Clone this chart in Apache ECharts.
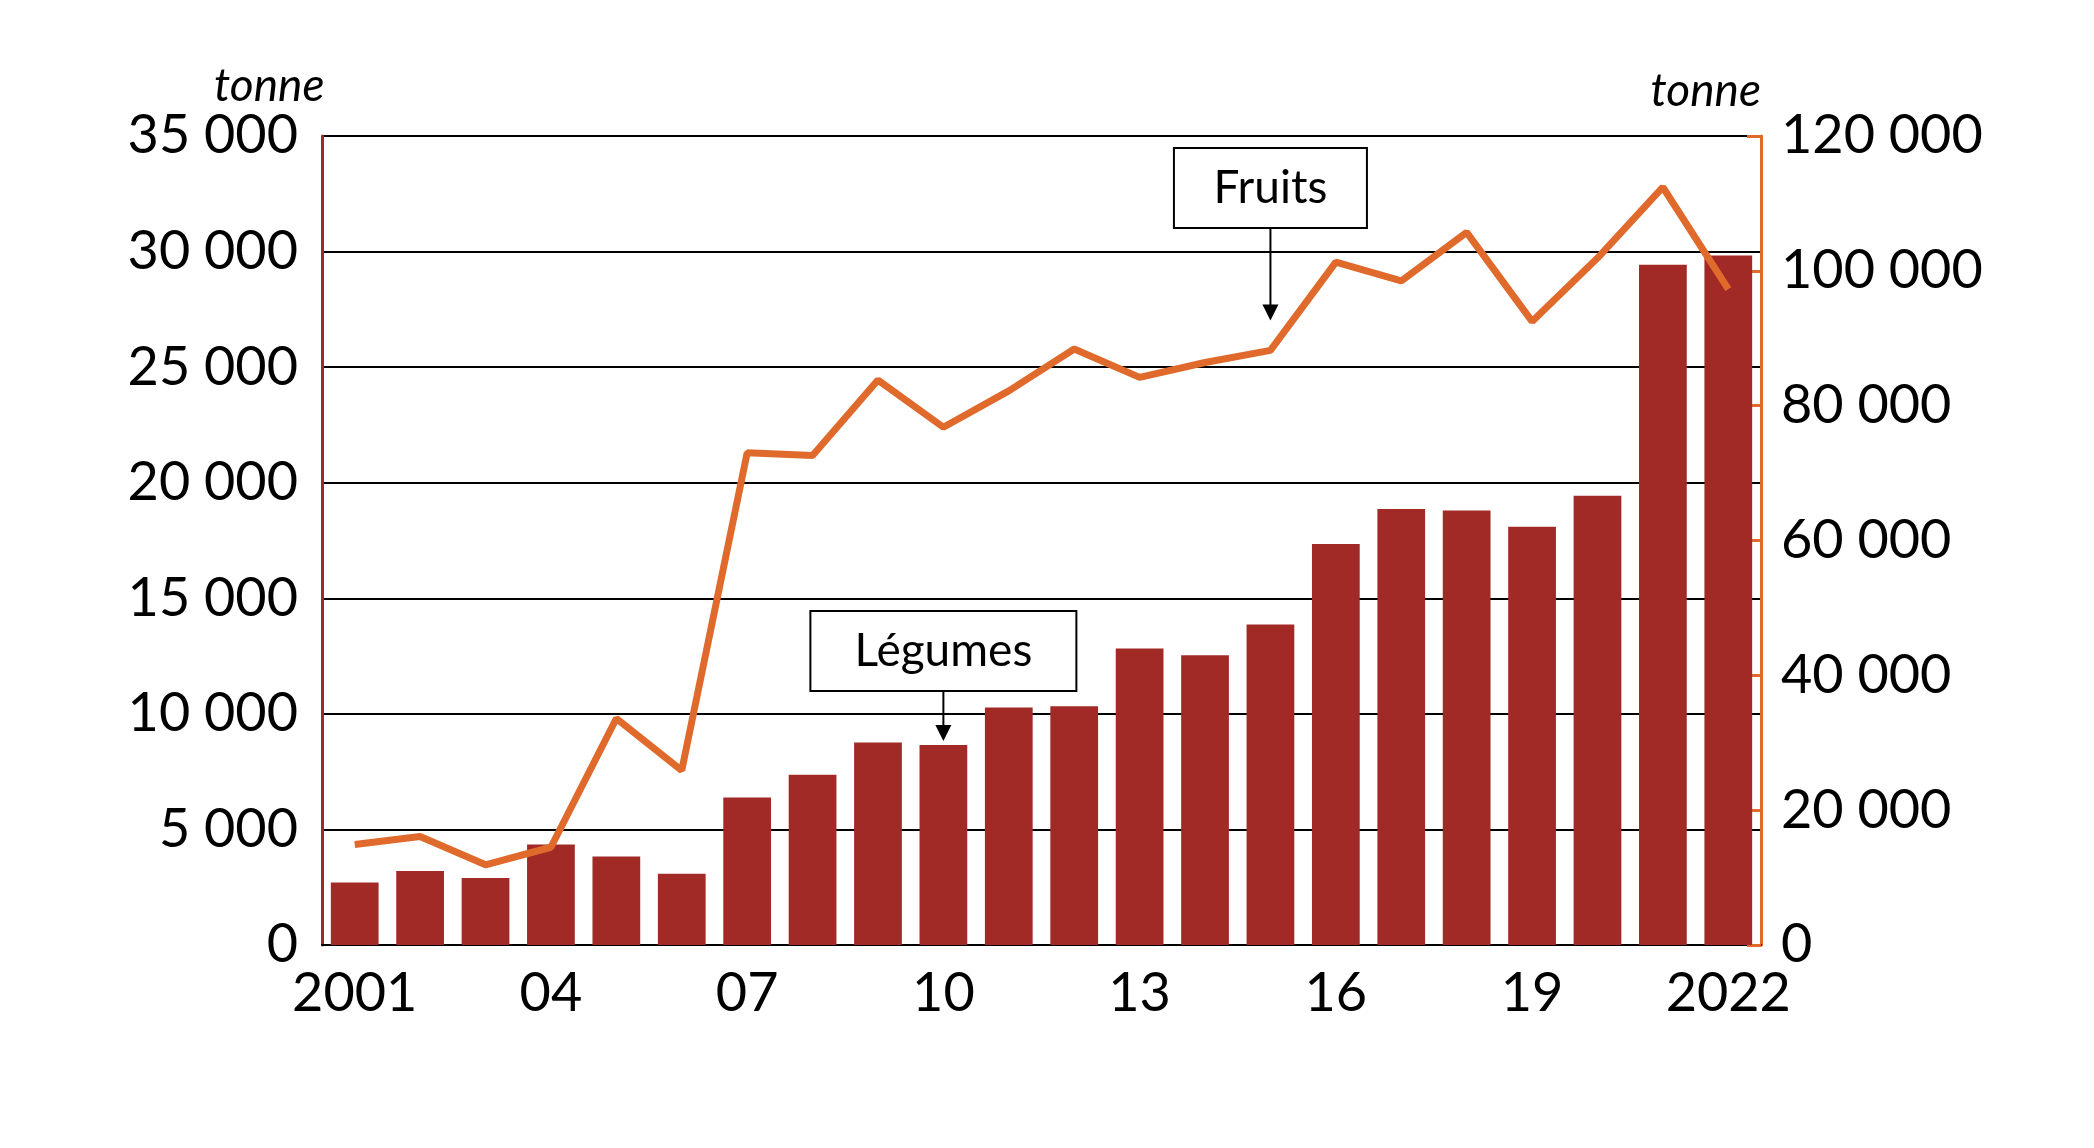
<!DOCTYPE html>
<html>
<head>
<meta charset="utf-8">
<script src="https://cdn.jsdelivr.net/npm/echarts@6/dist/echarts.min.js"></script>
<style>
html, body { margin: 0; padding: 0; background: #fff; }
#chart { width: 2094px; height: 1148px; }
</style>
</head>
<body>
<div id="chart"></div>
<script>
// années
var years = ['2001','2002','2003','2004','2005','2006','2007','2008','2009','2010','2011',
    '2012','2013','2014','2015','2016','2017','2018','2019','2020','2021','2022'];
// légumes (axe gauche, tonne)
var legumes = [2700, 3200, 2900, 4350, 3830, 3080, 6380, 7370, 8760, 8650, 10270,
    10330, 12830, 12540, 13870, 17350, 18860, 18800, 18100, 19440, 29430, 29830];
// fruits (axe droit, tonne)
var fruits = [14900, 16100, 11900, 14500, 33600, 25900, 73000, 72600, 83800, 76800, 82200,
    88400, 84200, 86400, 88200, 101300, 98500, 105700, 92500, 101900, 112400, 97300];

var font = 'Lato';
var chart = echarts.init(document.getElementById('chart'));

var option = {
    animation: false,
    textStyle: { fontFamily: font },
    grid: { left: 322, right: 333, top: 136, bottom: 203 },
    xAxis: {
        type: 'category',
        data: years,
        axisLine: { lineStyle: { color: '#000', width: 2 } },
        axisTick: { show: false },
        axisLabel: {
            color: '#000', fontSize: 54, margin: 22,
            interval: function (i) { return i % 3 === 0 || i === years.length - 1; },
            formatter: function (v, i) {
                if (i === 0 || i === years.length - 1) return v;
                return v.slice(2);
            }
        }
    },
    yAxis: [
        {
            type: 'value', min: 0, max: 35000, interval: 5000,
            name: 'tonne', nameLocation: 'end', nameGap: 22,
            nameTextStyle: { fontSize: 46, fontStyle: 'italic', color: '#000', align: 'left', padding: [0, 0, 0, -108] },
            axisLine: { show: true, lineStyle: { color: '#a12a27', width: 3 } },
            axisTick: { show: false },
            splitLine: { lineStyle: { color: '#000', width: 2 } },
            axisLabel: {
                color: '#000', fontSize: 54, margin: 24,
                formatter: function (v) { return String(v).replace(/\B(?=(\d{3})+(?!\d))/g, ' '); }
            }
        },
        {
            type: 'value', min: 0, max: 120000, interval: 20000,
            name: 'tonne', nameLocation: 'end', nameGap: 22,
            nameTextStyle: { fontSize: 46, fontStyle: 'italic', color: '#000', align: 'right', padding: [0, 0, 0, 0] },
            axisLine: { show: true, lineStyle: { color: '#e06a2c', width: 3 } },
            axisTick: { show: true, inside: true, length: 14, lineStyle: { color: '#e06a2c', width: 3 } },
            splitLine: { show: false },
            axisLabel: {
                color: '#000', fontSize: 54, margin: 20,
                formatter: function (v) { return String(v).replace(/\B(?=(\d{3})+(?!\d))/g, ' '); }
            }
        }
    ],
    series: [
        {
            name: 'Légumes', type: 'bar', yAxisIndex: 0, data: legumes,
            barCategoryGap: '27%',
            itemStyle: { color: '#a12a27' }
        },
        {
            name: 'Fruits', type: 'line', yAxisIndex: 1, data: fruits,
            symbol: 'none',
            lineStyle: { color: '#e06a2c', width: 7 }
        }
    ]
};
chart.setOption(option);

// annotations
function label(text, px, endY, boxBottom, w) {
    var h = 80;
    return [
        {
            type: 'rect', z: 100,
            shape: { x: px - w / 2, y: boxBottom - h, width: w, height: h },
            style: { fill: '#fff', stroke: '#000', lineWidth: 2 }
        },
        {
            type: 'text', z: 101, x: px, y: boxBottom - h / 2,
            style: { text: text, fontSize: 46, fontFamily: font, fill: '#000', align: 'center', verticalAlign: 'middle' }
        },
        {
            type: 'line', z: 100,
            shape: { x1: px, y1: boxBottom, x2: px, y2: endY - 4 },
            style: { stroke: '#000', lineWidth: 2 }
        },
        {
            type: 'polygon', z: 100,
            shape: { points: [[px - 8, endY - 16], [px + 8, endY - 16], [px, endY]] },
            style: { fill: '#000' }
        }
    ];
}
var pf = chart.convertToPixel({ xAxisIndex: 0, yAxisIndex: 1 }, ['2015', fruits[14]]);
var pl = chart.convertToPixel({ xAxisIndex: 0, yAxisIndex: 0 }, ['2010', legumes[9]]);
chart.setOption({
    graphic: label('Fruits', pf[0], pf[1] - 30, 228, 193).concat(label('Légumes', pl[0], pl[1] - 4, 691, 266))
});
</script>
</body>
</html>
